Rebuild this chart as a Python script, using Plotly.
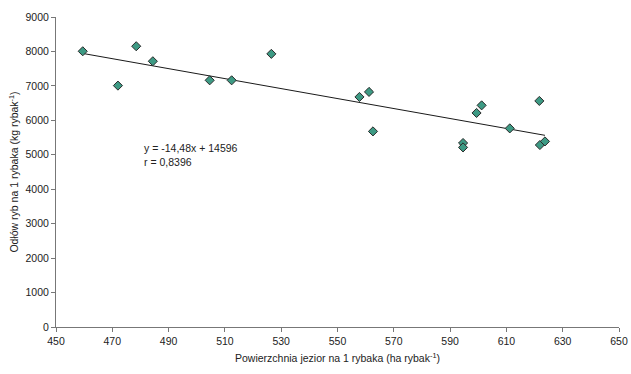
import plotly.graph_objects as go

x_area = [459.5, 472.0, 478.5, 484.4, 504.6, 512.4, 526.5, 557.8, 561.2, 562.6,
          594.6, 594.6, 599.4, 601.2, 611.2, 621.7, 621.9, 623.7]
y_catch = [8005, 7008, 8151, 7715, 7162, 7162, 7930, 6679, 6825, 5679,
           5342, 5214, 6214, 6435, 5766, 6563, 5284, 5388]
slope = -14.48
intercept = 14596
x_ticks = list(range(450, 651, 20))
y_ticks = list(range(0, 9001, 1000))

FONT = "Liberation Sans Narrow, Arial Narrow, Liberation Sans, Arial, sans-serif"

fig = go.Figure()
x0, x1 = min(x_area), max(x_area)
fig.add_trace(go.Scatter(
    x=[x0, x1], y=[slope * x0 + intercept, slope * x1 + intercept],
    mode="lines", line=dict(color="#1a1a1a", width=1), hoverinfo="skip"))
fig.add_trace(go.Scatter(
    x=x_area, y=y_catch, mode="markers",
    marker=dict(symbol="diamond", size=7, color="#3d9a84",
                line=dict(color="#2a2a2a", width=1))))

fig.add_annotation(x=480.5, y=5420, xref="x", yref="y", xanchor="left", yanchor="top",
                   align="left", showarrow=False,
                   text="y = -14,48x + 14596<br>r = 0,8396",
                   font=dict(family=FONT, size=10.5, color="#222"))

fig.update_layout(
    width=631, height=374, showlegend=False,
    paper_bgcolor="white", plot_bgcolor="white",
    margin=dict(l=56, r=12, t=17, b=47),
    font=dict(family=FONT, size=11, color="#222"),
)
fig.update_xaxes(range=[450, 650], tickvals=x_ticks, ticks="outside", ticklen=4,
                 tickcolor="#777", showline=True, linecolor="#777", linewidth=1,
                 showgrid=False, zeroline=False, automargin=False,
                 tickfont=dict(family=FONT, size=10.5),
                 title=dict(text="Powierzchnia jezior na 1 rybaka (ha rybak<sup>-1</sup>)",
                            standoff=9, font=dict(family=FONT, size=10.5)))
fig.update_yaxes(range=[0, 9000], tickvals=y_ticks, ticks="outside", ticklen=4,
                 tickcolor="#777", showline=True, linecolor="#777", linewidth=1,
                 showgrid=False, zeroline=False, automargin=False,
                 tickfont=dict(family=FONT, size=10.5),
                 title=dict(text="Odłów ryb na 1 rybaka (kg rybak<sup>-1</sup>)",
                            standoff=4, font=dict(family=FONT, size=10.5)))

fig.write_html("out.html")
